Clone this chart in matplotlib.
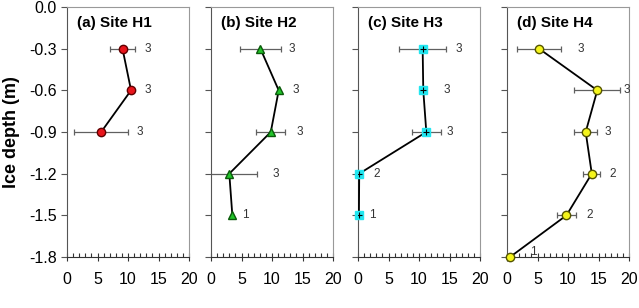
import matplotlib
matplotlib.use("Agg")
import matplotlib.pyplot as plt
from matplotlib.ticker import MultipleLocator

plt.rcParams['font.family'] = ['Liberation Sans', 'DejaVu Sans']

# Données
titres = ["(a) Site H1", "(b) Site H2", "(c) Site H3", "(d) Site H4"]

prof_h1 = [-0.3, -0.6, -0.9]
val_h1 = [9.1, 10.5, 5.6]
err_h1 = [2.0, 0.0, 4.4]
n_h1 = [3, 3, 3]
pos_n_h1 = [13.2, 13.2, 12.0]

prof_h2 = [-0.3, -0.6, -0.9, -1.2, -1.5]
val_h2 = [8.1, 11.1, 9.8, 3.0, 3.5]
err_h2 = [3.4, 0.0, 2.4, 4.6, 0.0]
n_h2 = [3, 3, 3, 3, 1]
pos_n_h2 = [13.2, 13.9, 14.6, 10.7, 5.7]

prof_h3 = [-0.3, -0.6, -0.9, -1.2, -1.5]
val_h3 = [10.6, 10.7, 11.2, 0.2, 0.15]
err_h3 = [3.9, 0.0, 2.4, 0.0, 0.0]
n_h3 = [3, 3, 3, 2, 1]
pos_n_h3 = [16.5, 14.5, 15.1, 3.1, 2.4]

prof_h4 = [-0.3, -0.6, -0.9, -1.2, -1.5, -1.8]
val_h4 = [5.25, 14.8, 12.9, 13.9, 9.75, 0.5]
err_h4 = [3.6, 3.8, 1.85, 1.4, 1.55, 0.0]
n_h4 = [3, 3, 3, 2, 2, 1]
pos_n_h4 = [12.1, 19.6, 16.5, 17.3, 13.5, 4.3]

styles = [
    dict(marker='o', mfc='#e8141b', mec='#600000', ms=6),
    dict(marker='^', mfc='#22c42a', mec='#0a5a0a', ms=6),
    dict(marker='s', mfc='#22e6f0', mec='#22e6f0', ms=6),
    dict(marker='o', mfc='#f5f51c', mec='#555500', ms=6),
]

donnees = [
    (prof_h1, val_h1, err_h1, n_h1, pos_n_h1),
    (prof_h2, val_h2, err_h2, n_h2, pos_n_h2),
    (prof_h3, val_h3, err_h3, n_h3, pos_n_h3),
    (prof_h4, val_h4, err_h4, n_h4, pos_n_h4),
]

fig = plt.figure(figsize=(6.39, 3.08), dpi=100)
gauches = [67, 211, 358, 507]

for i, (prof, val, err, n, pos_n) in enumerate(donnees):
    ax = fig.add_axes([gauches[i] / 639, 1 - 257 / 308, 122 / 639, 250 / 308])
    ax.errorbar(val, prof, xerr=err, fmt='none', ecolor='#606060',
                elinewidth=0.9, capsize=2.5, capthick=0.9, zorder=2)
    ax.plot(val, prof, color='black', lw=1.3, zorder=3, clip_on=False, **styles[i])
    if i == 2:
        ax.plot(val, prof, linestyle='none', marker='+', color='black',
                ms=4, mew=0.8, zorder=4)
    for x, y, t in zip(pos_n, prof, n):
        dy = 0.035 if y <= -1.79 else 0
        ax.text(x, y + dy, str(t), fontsize=8.5, color='#333333',
                ha='center', va='center')
    ax.text(0.08, 0.965, titres[i], transform=ax.transAxes, fontsize=11,
            fontweight='bold', ha='left', va='top')

    ax.set_xlim(0, 20)
    ax.set_ylim(-1.8, 0)
    ax.set_xticks([0, 5, 10, 15, 20])
    ax.xaxis.set_minor_locator(MultipleLocator(1))
    ax.set_yticks([0, -0.3, -0.6, -0.9, -1.2, -1.5, -1.8])
    ax.tick_params(axis='x', which='major', direction='inout', length=6,
                   width=0.8, labelsize=11.5, pad=8, color='#333333')
    ax.tick_params(axis='x', which='minor', direction='in', length=3,
                   width=0.8, color='#333333')
    ax.tick_params(axis='y', direction='out', length=4, width=0.8,
                   labelsize=11.5, color='#555555')
    for cote in ['top', 'right']:
        ax.spines[cote].set_color('#999999')
        ax.spines[cote].set_linewidth(0.8)
    ax.spines['left'].set_color('#555555')
    ax.spines['bottom'].set_color('#333333')
    ax.spines['left'].set_linewidth(0.8)
    ax.spines['bottom'].set_linewidth(0.8)
    if i == 0:
        ax.set_yticklabels(['0.0', '-0.3', '-0.6', '-0.9', '-1.2', '-1.5', '-1.8'])
        ax.set_ylabel('Ice depth (m)', fontsize=13, fontweight='bold', labelpad=6)
    else:
        ax.set_yticklabels([])

fig.savefig("out.png", dpi=100)
